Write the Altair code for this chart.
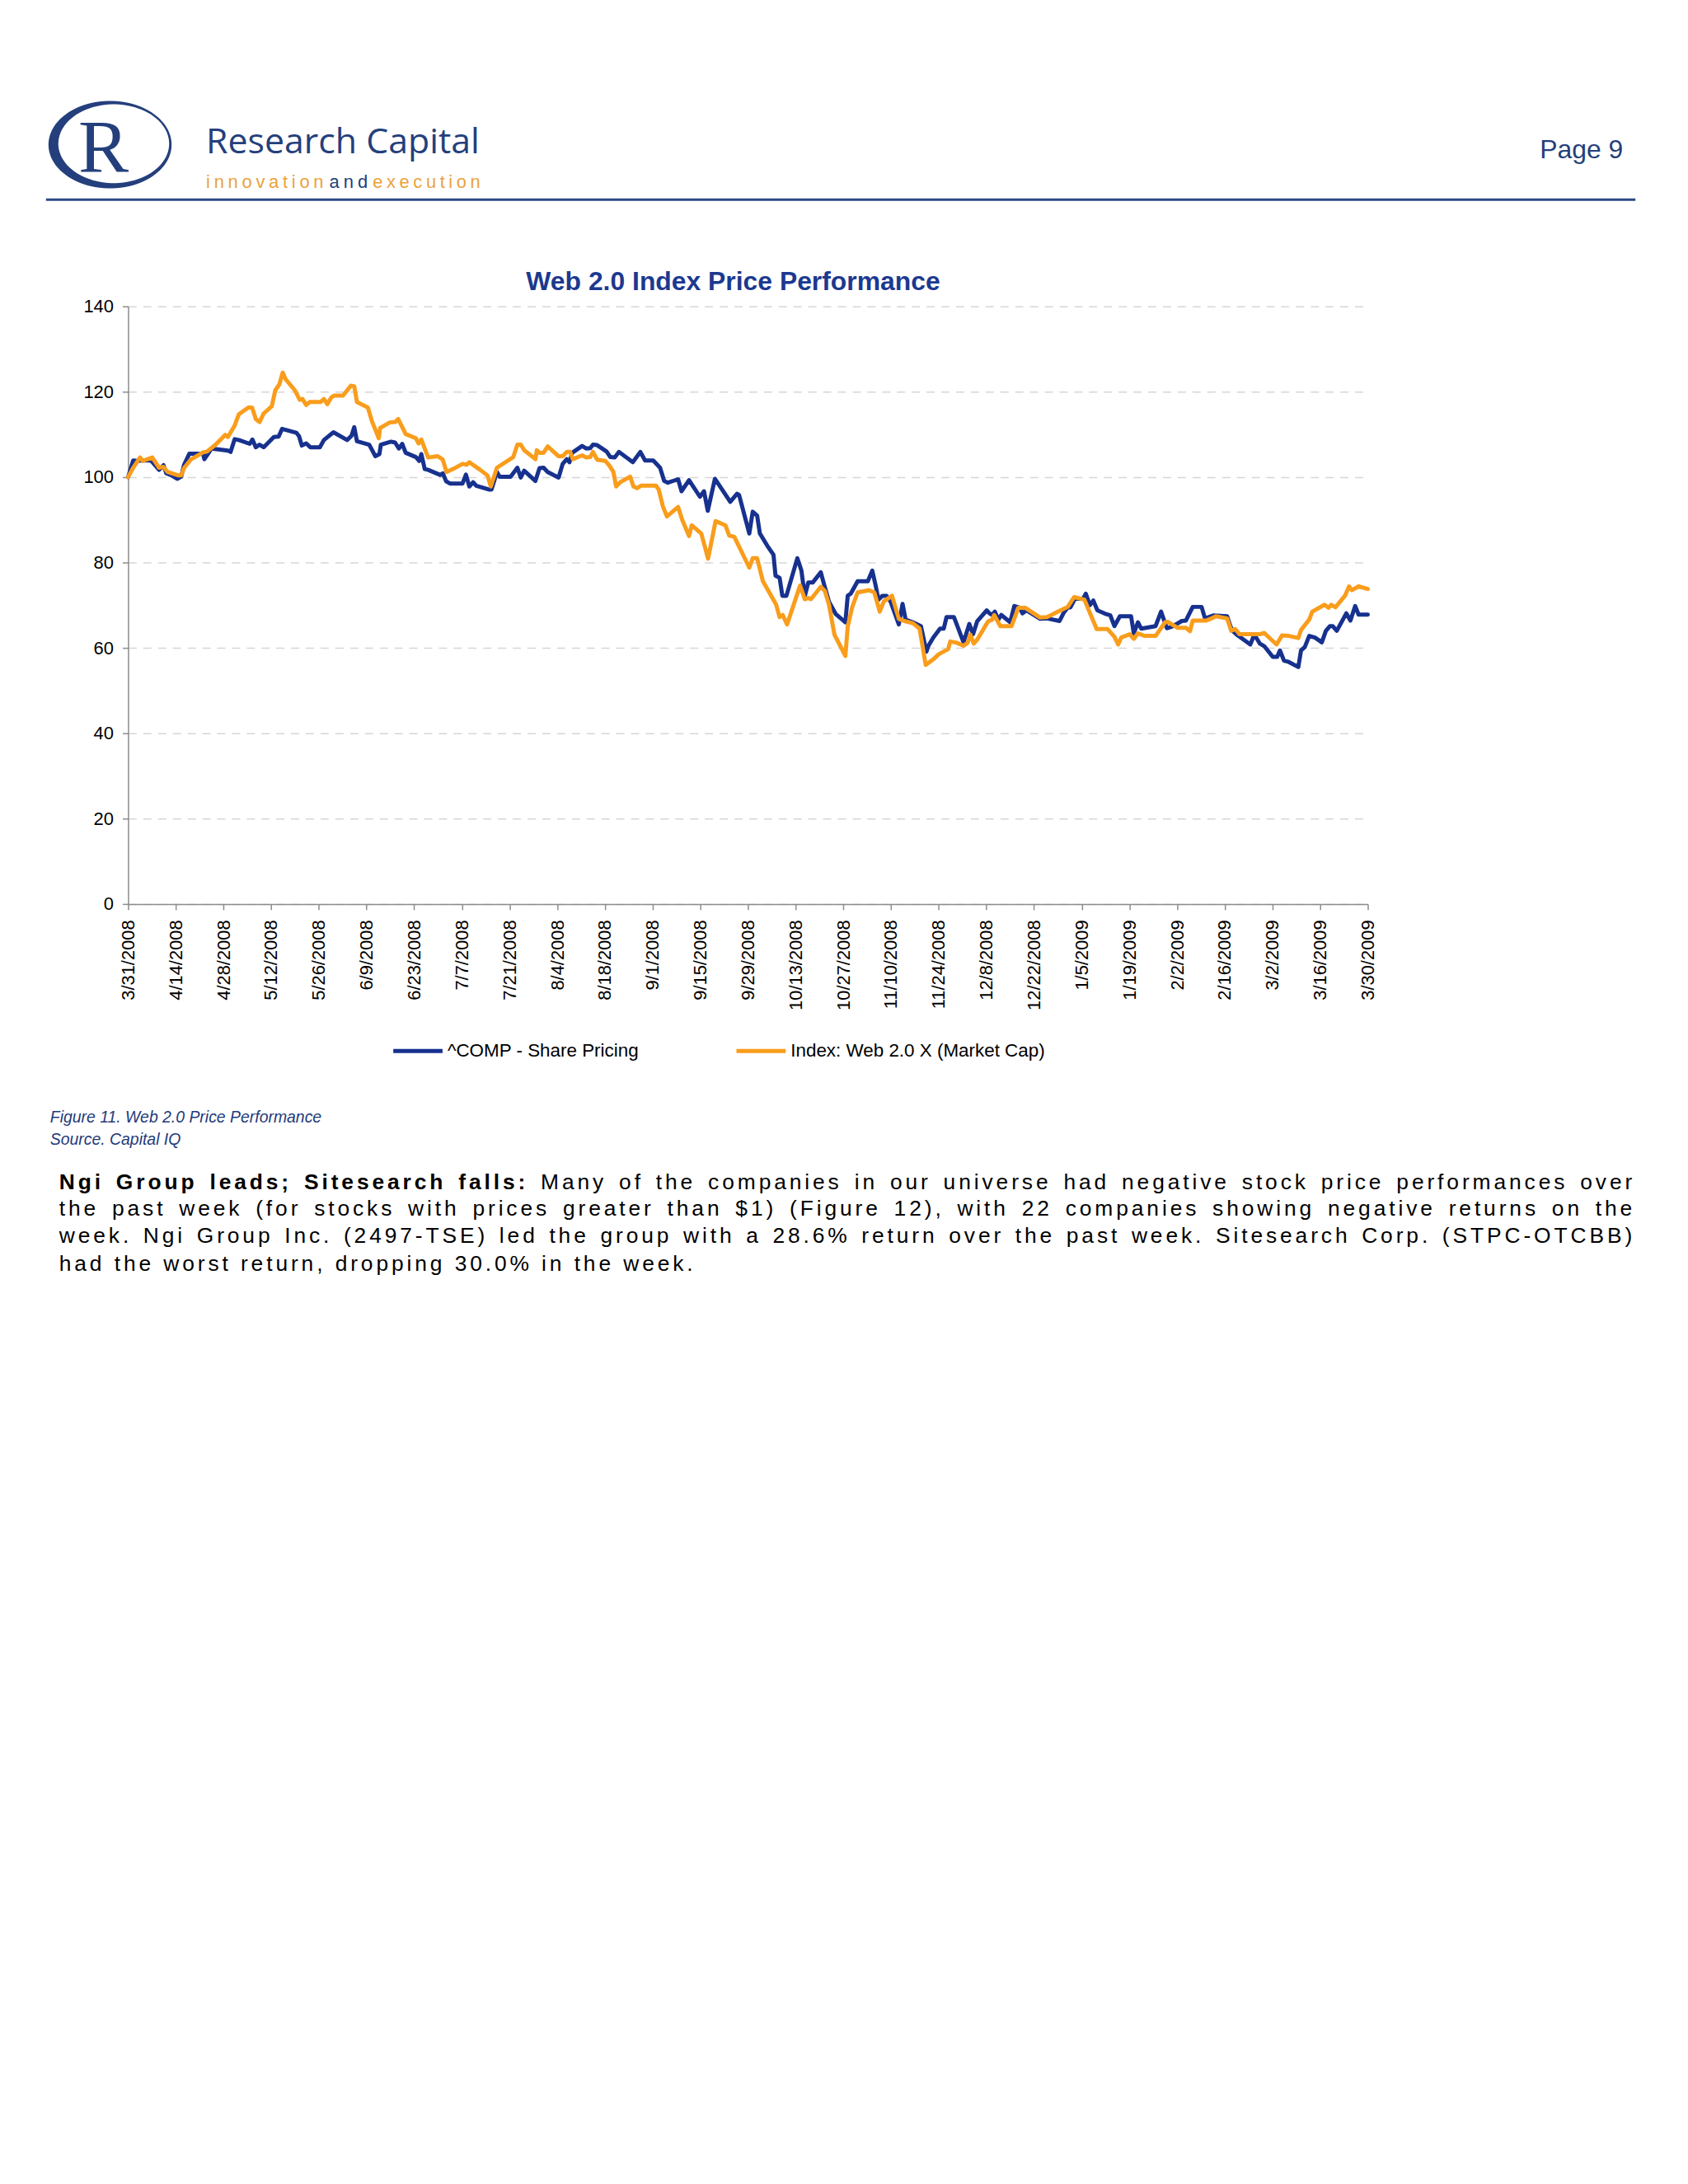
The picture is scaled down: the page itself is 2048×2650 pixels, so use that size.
import math
import altair as alt
import pandas as pd

# ---------------- data ----------------
SERIES = ["^COMP - Share Pricing", "Index: Web 2.0 X (Market Cap)"]
START_DATE = "2008-03-31"

# days after 3/31/2008
comp_days = [0, 1.5, 2.7, 3.9, 6.7, 7.9, 9.1, 10.4, 11.2, 12.8, 14.4, 15.6, 16.4, 18.0, 22.0, 22.4, 24.5, 29.3, 30.1,
             31.3, 32.5, 35.7, 36.5, 37.5, 38.6, 39.8, 42.8, 44.2, 45.2, 49.4, 50.2, 51.0, 52.3, 53.5, 56.3, 57.5, 60.3,
             64.3, 65.6, 66.4, 67.2, 70.8, 72.6, 73.8, 74.2, 77.2, 78.4, 79.5, 80.5, 81.5, 84.5, 85.5, 86.1, 87.1, 88.1,
             91.7, 92.4, 93.4, 94.6, 98.2, 99.2, 100.2, 101.3, 102.2, 105.9, 106.7, 108.3, 109.1, 112.3, 114.3, 115.3,
             116.3, 119.6, 120.8, 122.0, 123.2, 126.4, 127.6, 128.8, 129.6, 130.4, 133.3, 134.5, 135.7, 136.5, 137.7,
             140.5, 141.6, 142.9, 144.1, 148.2, 150.4, 151.8, 154.2, 156.2, 157.4, 158.5, 161.5, 162.5, 164.7, 167.9,
             169.1, 170.2, 172.3, 176.8, 178.8, 179.4, 182.4, 183.4, 184.7, 185.5, 187.7, 189.5, 190.1, 191.3, 192.1,
             193.3, 196.5, 197.7, 198.7, 199.7, 201.0, 203.4, 204.2, 205.8, 207.8, 210.6, 211.3, 212.2, 214.2, 217.2,
             218.5, 219.5, 220.3, 221.5, 222.7, 223.9, 226.3, 227.4, 228.3, 230.4, 232.8, 234.4, 235.0, 236.4, 238.4,
             239.5, 240.3, 242.5, 245.3, 247.0, 248.1, 249.3, 252.1, 252.9, 253.7, 254.5, 255.5, 256.4, 259.0, 260.2,
             261.8, 262.6, 263.8, 267.8, 269.8, 273.5, 274.7, 275.9, 276.7, 278.0, 280.4, 281.2, 282.4, 283.4, 284.6,
             287.2, 288.4, 289.6, 291.2, 294.5, 295.3, 296.5, 297.5, 301.7, 303.3, 305.0, 306.6, 309.4, 310.6, 312.6,
             315.2, 316.2, 318.6, 322.7, 323.7, 324.3, 325.5, 329.5, 330.7, 332.3, 333.6, 336.1, 337.4, 338.2, 339.4,
             340.8, 343.6, 344.4, 345.5, 346.8, 348.5, 350.5, 351.7, 352.9, 353.7, 354.9, 357.7, 358.9, 360.3, 361.3,
             364.0]
comp_vals = [100.0, 103.9, 103.8, 103.9, 103.9, 102.8, 101.7, 102.8, 100.9, 100.4, 99.6, 100.1, 102.8, 105.5, 105.5,
             104.2, 106.7, 106.2, 105.9, 108.9, 108.7, 107.8, 108.8, 107.0, 107.6, 107.0, 109.4, 109.5, 111.3, 110.4,
             109.6, 107.4, 107.9, 107.0, 107.0, 108.7, 110.5, 108.7, 109.7, 111.7, 108.4, 107.6, 104.9, 105.4, 107.6,
             108.3, 108.1, 106.7, 107.8, 105.7, 104.7, 103.8, 105.4, 101.9, 101.7, 100.5, 100.9, 99.0, 98.5, 98.5,
             100.6, 97.8, 98.8, 98.0, 97.1, 97.1, 101.2, 100.1, 100.1, 102.2, 99.9, 101.5, 99.1, 102.1, 102.2, 101.2,
             99.9, 103.1, 104.2, 103.5, 105.7, 107.3, 106.7, 106.8, 107.6, 107.5, 106.0, 104.7, 104.6, 105.9, 103.5,
             105.9, 103.9, 103.9, 102.2, 99.1, 98.7, 99.5, 96.7, 99.3, 95.4, 96.7, 92.1, 99.6, 94.2, 96.1, 95.8, 86.8,
             91.9, 91.0, 86.8, 83.9, 81.8, 76.9, 76.4, 72.2, 72.2, 81.0, 78.1, 72.1, 75.3, 75.3, 77.7, 75.3, 70.8, 67.9,
             66.0, 72.2, 72.7, 75.6, 75.6, 78.1, 74.6, 71.3, 72.2, 72.2, 70.8, 65.5, 70.3, 66.6, 66.0, 65.1, 59.1, 60.5,
             62.4, 64.5, 64.5, 67.2, 67.2, 61.3, 65.6, 63.2, 66.2, 68.8, 68.1, 67.7, 68.5, 66.6, 67.7, 66.0, 69.8, 69.4,
             68.1, 68.8, 66.8, 66.9, 66.3, 68.2, 69.5, 69.5, 71.5, 71.5, 72.7, 70.0, 71.1, 68.8, 67.9, 67.6, 65.1, 67.4,
             67.4, 63.4, 66.0, 64.5, 65.1, 68.5, 64.6, 65.0, 66.3, 66.4, 69.6, 69.6, 66.9, 67.6, 67.4, 65.0, 64.0, 63.1,
             60.8, 63.1, 61.0, 60.4, 57.9, 57.9, 59.4, 57.0, 56.7, 55.5, 59.4, 60.2, 62.8, 62.4, 61.3, 64.0, 65.1, 65.1,
             64.0, 68.1, 66.4, 69.8, 67.8, 67.8]

web_days = [0, 1.5, 3.5, 4.3, 7.1, 9.1, 10.4, 11.6, 14.8, 15.6, 16.4, 18.4, 22.0, 23.2, 25.7, 28.5, 29.3, 31.3, 32.5,
            35.3, 36.4, 37.5, 38.6, 39.8, 42.2, 43.2, 44.4, 45.4, 46.2, 49.0, 50.4, 51.2, 52.3, 53.3, 56.5, 57.5, 58.5,
            59.7, 60.5, 63.1, 65.4, 66.4, 67.2, 70.4, 71.6, 73.6, 74.0, 76.8, 78.4, 79.3, 81.5, 84.5, 85.3, 86.1, 88.1,
            90.9, 92.4, 93.5, 95.4, 98.2, 99.4, 100.2, 101.4, 103.4, 105.5, 106.5, 108.3, 113.1, 114.3, 115.3, 116.3,
            119.6, 120.0, 120.8, 122.0, 123.2, 126.4, 127.6, 128.8, 129.8, 130.6, 133.3, 134.5, 135.7, 136.5, 137.7,
            140.1, 141.3, 142.5, 143.3, 144.5, 147.4, 148.4, 149.4, 150.6, 155.0, 155.8, 157.0, 158.2, 161.5, 162.7,
            164.7, 165.5, 168.3, 170.3, 172.5, 175.4, 176.5, 178.0, 182.4, 183.4, 184.7, 186.4, 188.9, 190.3, 191.3,
            192.2, 193.5, 197.3, 198.7, 199.7, 200.5, 203.4, 204.6, 205.8, 207.4, 210.6, 211.3, 212.6, 214.2, 217.5,
            219.1, 220.7, 221.9, 224.3, 226.3, 227.9, 230.4, 232.4, 234.2, 236.4, 238.0, 240.8, 241.4, 243.3, 245.3,
            246.5, 247.3, 248.3, 249.3, 252.5, 253.7, 254.3, 256.1, 259.4, 261.4, 263.4, 267.8, 269.8, 273.1, 275.9,
            277.8, 280.8, 282.4, 284.4, 287.6, 289.6, 290.7, 291.6, 294.1, 295.3, 296.5, 298.5, 301.7, 304.5, 305.3,
            308.2, 310.6, 311.8, 312.6, 316.6, 317.8, 319.4, 322.7, 323.9, 325.1, 326.3, 332.3, 333.6, 337.2, 338.8,
            340.8, 343.6, 344.4, 346.8, 347.7, 351.3, 352.5, 353.3, 354.5, 357.3, 358.5, 359.3, 361.3, 364.0]
web_vals = [100.0, 102.2, 104.6, 103.8, 104.6, 102.2, 102.4, 101.2, 100.4, 100.4, 102.1, 104.1, 105.8, 106.0, 107.6,
            109.9, 109.4, 112.1, 114.7, 116.3, 116.3, 113.6, 112.9, 114.9, 116.6, 120.3, 121.7, 124.5, 123.0, 120.3,
            118.1, 118.3, 116.9, 117.6, 117.6, 118.3, 117.1, 118.7, 119.1, 119.1, 121.4, 121.3, 117.6, 116.3, 113.1,
            109.1, 111.5, 112.8, 112.9, 113.6, 110.1, 109.1, 107.9, 108.8, 104.6, 104.9, 104.1, 101.2, 101.9, 103.1,
            102.9, 103.5, 102.8, 101.7, 100.4, 97.8, 102.2, 104.7, 107.6, 107.6, 106.3, 104.2, 106.3, 105.7, 105.7,
            107.2, 104.9, 104.9, 105.9, 105.9, 104.2, 105.1, 104.6, 104.7, 105.9, 104.1, 103.8, 102.7, 101.2, 97.8,
            98.8, 100.1, 97.8, 97.4, 98.0, 98.0, 97.1, 93.2, 90.8, 93.0, 90.0, 86.2, 88.7, 86.8, 80.9, 89.7, 88.7, 86.3,
            86.0, 78.8, 81.0, 81.0, 75.6, 72.1, 70.1, 67.2, 67.7, 65.5, 74.6, 71.4, 71.7, 71.4, 74.3, 73.3, 70.1, 63.1,
            58.1, 65.0, 69.5, 73.0, 73.5, 73.0, 68.5, 70.9, 72.2, 66.8, 66.3, 65.8, 64.5, 56.0, 57.3, 58.5, 59.7, 61.5,
            61.2, 60.5, 61.2, 63.1, 61.0, 61.9, 66.2, 66.6, 67.7, 65.1, 65.1, 69.4, 69.4, 67.1, 67.2, 68.5, 69.6, 71.9,
            71.3, 68.2, 64.4, 64.4, 62.6, 60.8, 62.4, 63.2, 62.1, 63.4, 62.8, 62.8, 66.0, 66.1, 64.7, 64.7, 63.9, 66.4,
            66.4, 66.8, 67.4, 66.9, 64.0, 64.4, 63.2, 63.2, 63.5, 60.8, 62.9, 62.8, 62.3, 64.2, 66.6, 68.5, 70.1, 69.4,
            70.1, 69.5, 72.2, 74.4, 73.5, 74.4, 73.8]

TICK_LABELS = ["3/31/2008", "4/14/2008", "4/28/2008", "5/12/2008", "5/26/2008", "6/9/2008", "6/23/2008",
               "7/7/2008", "7/21/2008", "8/4/2008", "8/18/2008", "9/1/2008", "9/15/2008", "9/29/2008",
               "10/13/2008", "10/27/2008", "11/10/2008", "11/24/2008", "12/8/2008", "12/22/2008", "1/5/2009",
               "1/19/2009", "2/2/2009", "2/16/2009", "3/2/2009", "3/16/2009", "3/30/2009"]
Y_TICKS = [0, 20, 40, 60, 80, 100, 120, 140]

CHART_TITLE = "Web 2.0 Index Price Performance"
CAPTION = ["Figure 11. Web 2.0 Price Performance", "Source. Capital IQ"]
PAGE_LABEL = "Page 9"
BRAND = "Research Capital"
TAGLINE = ["innovation", "and", "execution"]
PARA_BOLD = "Ngi Group leads; Sitesearch falls:"
PARA_LINES = [
    " Many of the companies in our universe had negative stock price performances over",
    "the past week (for stocks with prices greater than $1) (Figure 12), with 22 companies showing negative returns on the",
    "week. Ngi Group Inc. (2497-TSE) led the group with a 28.6% return over the past week. Sitesearch Corp. (STPC-OTCBB)",
    "had the worst return, dropping 30.0% in the week.",
]

# ---------------- style ----------------
FONT = "Liberation Sans"
BLUE = "#17318e"
ORANGE = "#f99d1c"
NAVY = "#243f7c"
TITLE_BLUE = "#1c3990"
TAG_ORANGE = "#eba23c"
W, H = 1510, 728

# Arial / Liberation Sans advance widths (1/1000 em)
REG_W = dict(zip("abcdefghijklmnopqrstuvwxyz",
                 [556, 556, 500, 556, 556, 278, 556, 556, 222, 222, 500, 222, 833, 556, 556, 556, 556, 333, 500, 278,
                  556, 500, 722, 500, 500, 500]))
REG_W.update(zip("ABCDEFGHIJKLMNOPQRSTUVWXYZ",
                 [667, 667, 722, 722, 667, 611, 778, 722, 278, 500, 667, 556, 833, 722, 778, 667, 778, 722, 667, 611,
                  722, 667, 944, 667, 667, 611]))
REG_W.update({c: 556 for c in "0123456789$"})
REG_W.update({" ": 278, ".": 278, ",": 278, ";": 278, ":": 278, "(": 333, ")": 333, "-": 333, "%": 889})
BOLD_W = dict(zip("abcdefghijklmnopqrstuvwxyz",
                  [556, 611, 556, 611, 556, 333, 611, 611, 278, 278, 556, 278, 889, 611, 611, 611, 611, 389, 556, 333,
                   611, 556, 778, 556, 556, 500]))
BOLD_W.update(zip("ABCDEFGHIJKLMNOPQRSTUVWXYZ",
                  [722, 722, 722, 722, 667, 611, 778, 722, 278, 556, 722, 611, 833, 722, 778, 667, 778, 722, 667, 611,
                   722, 667, 944, 667, 667, 611]))
BOLD_W.update({" ": 278, ";": 333, ":": 333})


def layout(segments, x0, y, size, ls, target=None):
    """Place characters one by one (letter-spaced, optionally justified)."""
    chars = [(c, b) for t, b in segments for c in t]
    widths = [(BOLD_W if b else REG_W).get(c, 556) * size / 1000 for c, b in chars]
    n = len(chars)
    natural = sum(widths) + ls * (n - 1)
    extra = 0.0
    if target is not None:
        nsp = sum(1 for c, _ in chars if c == " ")
        if nsp:
            extra = (target - natural) / nsp
        elif n > 1:
            ls += (target - natural) / (n - 1)
    rows, x = [], x0
    for (c, b), w in zip(chars, widths):
        if c != " ":
            rows.append((round(x, 2), y, c, b))
        x += w + ls + (extra if c == " " else 0.0)
    return rows


def text_layer(rows, font=FONT, weight="normal", style="normal", align="left", baseline="alphabetic"):
    df = pd.DataFrame(rows, columns=["px", "py", "txt", "fs", "col"])
    return alt.Chart(df).mark_text(font=font, fontWeight=weight, fontStyle=style, align=align,
                                   baseline=baseline).encode(
        x=alt.X("px:Q", scale=None, axis=None),
        y=alt.Y("py:Q", scale=None, axis=None),
        text=alt.Text("txt:N"),
        size=alt.Size("fs:Q", scale=None, legend=None),
        color=alt.Color("col:N", scale=None, legend=None),
    )


def to_df(days, vals, name):
    t = pd.Timestamp(START_DATE) + pd.to_timedelta(days, unit="D")
    return pd.DataFrame({"date": t.strftime("%Y-%m-%dT%H:%M:%S"), "value": vals, "series": name})


def dt(s):
    m, d, y = (int(v) for v in s.split("/"))
    return alt.DateTime(year=y, month=m, date=d)


tick_vals = [dt(s) for s in TICK_LABELS]
dummy = pd.DataFrame({"k": [0]})

x_enc = alt.X("date:T", scale=alt.Scale(domain=[tick_vals[0], tick_vals[-1]]),
              axis=alt.Axis(values=tick_vals, format="%-m/%-d/%Y", labelAngle=-90, title=None, grid=False,
                            domainColor="#8c8c8c", domainWidth=1.5, tickColor="#8c8c8c", tickWidth=1.5, tickSize=7,
                            labelFont=FONT, labelFontSize=22, labelColor="#000000", labelPadding=12,
                            labelOverlap=False, labelFlush=False))
y_enc = alt.Y("value:Q", scale=alt.Scale(domain=[0, 140], nice=False),
              axis=alt.Axis(values=Y_TICKS, title=None, grid=True, gridColor="#d6d6d6", gridDash=[10, 8],
                            gridWidth=1.5, domainColor="#8c8c8c", domainWidth=1.5, tickColor="#8c8c8c", tickSize=7,
                            tickWidth=1.5, labelFont=FONT, labelFontSize=22, labelColor="#000000", labelPadding=11))

line_props = dict(strokeWidth=5, strokeJoin="round", strokeCap="round")
comp_line = alt.Chart(to_df(comp_days, comp_vals, SERIES[0])).mark_line(color=BLUE, **line_props).encode(
    x=x_enc, y=y_enc)
web_line = alt.Chart(to_df(web_days, web_vals, SERIES[1])).mark_line(color=ORANGE, **line_props).encode(
    x=x_enc, y=y_enc)
lines = alt.layer(comp_line, web_line)

# ---- logo (crescent ring + R) ----
def ellipse(cx, cy, rx, ry, n=90, rev=False):
    pts = []
    for i in range(n):
        a = 2 * math.pi * i / n * (-1 if rev else 1)
        pts.append(f"{cx + rx * math.cos(a):.4f},{cy + ry * math.sin(a):.4f}")
    return "M" + " L".join(pts) + " Z"

LOGO_PATH = ellipse(0, 0, 1.0, 0.71) + " " + ellipse(0.06, -0.015, 0.9, 0.64, rev=True)
logo_ring = alt.Chart(dummy).mark_point(shape=LOGO_PATH, filled=True, size=22500, opacity=1, color=NAVY,
                                        strokeWidth=0).encode(x=alt.value(-22), y=alt.value(-197))
logo_r = text_layer([(-30, -163, "R", 92, NAVY)], font="Liberation Serif", align="center")

brand = text_layer([(95, -186, BRAND, 43, NAVY)], font="Open Sans")
tag_rows = []
for word, x0, tw in zip(TAGLINE, [95, 245, 298], [143, 47, 131]):
    for (x, y, c, b) in layout([(word, False)], x0, -144, 22, 4, target=tw):
        tag_rows.append((x, y, c, 22, NAVY if word == "and" else TAG_ORANGE))
tagline = text_layer(tag_rows)
page_lbl = text_layer([(1821, -180, PAGE_LABEL, 32, NAVY)], align="right")
top_rule = alt.Chart(dummy).mark_rule(color="#2b4a86", strokeWidth=3).encode(
    x=alt.value(-100), x2=alt.value(1836), y=alt.value(-130))

title = text_layer([(737, -20, CHART_TITLE, 32, TITLE_BLUE)], weight="bold", align="center")

# ---- legend ----
leg_comp = alt.Chart(dummy).mark_rule(color=BLUE, strokeWidth=5).encode(
    x=alt.value(323), x2=alt.value(383), y=alt.value(907))
leg_web = alt.Chart(dummy).mark_rule(color=ORANGE, strokeWidth=5).encode(
    x=alt.value(741), x2=alt.value(801), y=alt.value(907))
leg_text = text_layer([(389, 907, SERIES[0], 22.5, "#000000"), (807, 907, SERIES[1], 22.5, "#000000")],
                      baseline="middle")

caption = text_layer([(-95, 994, CAPTION[0], 19.5, "#1f3a7a"), (-95, 1021, CAPTION[1], 19.5, "#1f3a7a")],
                     style="italic")

# ---- paragraph (letter-spaced, justified) ----
P_SIZE, P_LS, P_X0, P_W = 26.5, 3.9, -84, 1916
P_Y = [1075, 1108, 1141, 1175]
para_rows = []
para_rows += layout([(PARA_BOLD, True), (PARA_LINES[0], False)], P_X0, P_Y[0], P_SIZE, P_LS, target=P_W)
para_rows += layout([(PARA_LINES[1], False)], P_X0, P_Y[1], P_SIZE, P_LS, target=P_W)
para_rows += layout([(PARA_LINES[2], False)], P_X0, P_Y[2], P_SIZE, P_LS, target=P_W)
para_rows += layout([(PARA_LINES[3], False)], P_X0, P_Y[3], P_SIZE, P_LS)
para_bold = text_layer([(x, y, c, P_SIZE, "#000000") for x, y, c, b in para_rows if b], weight="bold")
para_reg = text_layer([(x, y, c, P_SIZE, "#000000") for x, y, c, b in para_rows if not b])

chart = alt.layer(
    lines, logo_ring, logo_r, brand, tagline, page_lbl, top_rule, title,
    leg_comp, leg_web, leg_text, caption, para_bold, para_reg,
).resolve_scale(
    x="independent", y="independent", color="independent", size="independent"
).properties(
    width=W, height=H,
    autosize=alt.AutoSizeParams(type="none"),
    padding={"left": 148, "top": 362, "right": 382, "bottom": 520},
    background="#ffffff",
).configure_view(strokeWidth=0)

chart.save("out.html", embed_options={"renderer": "svg", "actions": False})
